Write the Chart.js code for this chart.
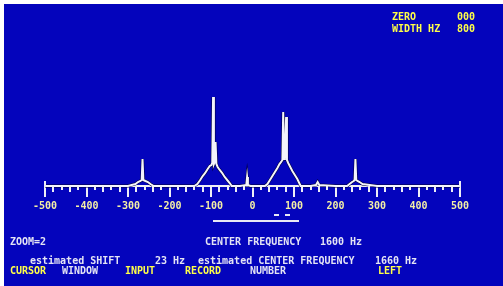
<!DOCTYPE html>
<html><head><meta charset="utf-8">
<script src="https://cdn.jsdelivr.net/npm/chart.js@4.4.0/dist/chart.umd.min.js"></script>
<style>
html,body{margin:0;padding:0;background:#fff;width:503px;height:286px;overflow:hidden}
#wrap{position:absolute;left:0;top:0;width:503px;height:286px}
#bg{position:absolute;left:4px;top:4px;right:0;bottom:0;background:#0404bc}
canvas{position:absolute;left:0;top:0}
.t{position:absolute;font:bold 10px "DejaVu Sans Mono",monospace;color:#e4e4f4;white-space:pre;line-height:10px}
.y{color:#ffff48}
.bar{position:absolute;background:#e8e8f4}
</style></head><body>
<div id="wrap">
<div id="bg"></div>
<canvas id="c" width="503" height="286"></canvas>
<div class="t y" style="left:392px;top:12px">ZERO</div>
<div class="t y" style="left:457px;top:12px">000</div>
<div class="t y" style="left:392px;top:24px">WIDTH HZ</div>
<div class="t y" style="left:457px;top:24px">800</div>
<div class="bar" style="left:274px;top:214px;width:5px;height:2px"></div>
<div class="bar" style="left:285px;top:214px;width:5px;height:2px"></div>
<div class="bar" style="left:213px;top:220px;width:86px;height:2px"></div>
<div class="t" style="left:10px;top:237px">ZOOM=2</div>
<div class="t" style="left:205px;top:237px">CENTER FREQUENCY</div>
<div class="t" style="left:320px;top:237px">1600 Hz</div>
<div class="t" style="left:30px;top:256px">estimated SHIFT</div>
<div class="t" style="left:155px;top:256px">23 Hz</div>
<div class="t" style="left:198px;top:256px">estimated CENTER FREQUENCY</div>
<div class="t" style="left:375px;top:256px">1660 Hz</div>
<div class="t y" style="left:10px;top:266px">CURSOR</div>
<div class="t" style="left:62px;top:266px">WINDOW</div>
<div class="t y" style="left:125px;top:266px">INPUT</div>
<div class="t y" style="left:185px;top:266px">RECORD</div>
<div class="t" style="left:250px;top:266px">NUMBER</div>
<div class="t y" style="left:378px;top:266px">LEFT</div>
</div>
<script>
const freqHz = [-500,-420,-300,-282,-276,-270,-267,-265,-263,-258,-252,-246,-238,
  -140,-133,-126,-120,-114,-108,-103,-99,-97,-95,-93,-91,-89,-87,-84,-79,-73,-67,-61,-55,-50,
  -30,-15,-13,-11,-5,
  10,30,36,42,48,54,60,65,69,72,74,76,78,81,83,86,91,96,102,108,116,
  140,153,157,161,
  200,228,234,240,244,246,248,250,253,258,265,300,420,500];
const level = [0,0,0,2,4,5,6,27,6,5,4,2,0,
  0,2,6,10,13,17,20,21,23,89,22,24,44,22,19,16,13,9,6,3,0,
  0,1,9,1,0,
  0,0,2,6,10,14,18,22,24,26,74,27,28,69,26,23,19,15,11,7,0,
  0,1,4,1,
  0,0,2,4,5,6,27,6,5,4,2,0,0,0];
const xMin = -500, xMax = 500, majorStep = 100, minorStep = 20;

const pts = freqHz.map((f,i)=>({x:f,y:level[i]}));

const minorTicks = {
  id:'minorTicks',
  afterDraw(chart){
    const s = chart.scales.x, ctx = chart.ctx, y0 = s.top;
    ctx.save();
    ctx.strokeStyle = '#eeeef6';
    ctx.lineWidth = 2;
    for (let v = xMin; v <= xMax; v += minorStep) {
      if (v % majorStep === 0) continue;
      const len = (v % 40 === 0) ? 6 : 4;
      const px = Math.round(s.getPixelForValue(v));
      ctx.beginPath(); ctx.moveTo(px, y0); ctx.lineTo(px, y0 + len); ctx.stroke();
    }
    [xMin, xMax].forEach(v=>{
      const px = Math.round(s.getPixelForValue(v));
      ctx.beginPath(); ctx.moveTo(px, y0 + 1); ctx.lineTo(px, y0 - 5); ctx.stroke();
    });
    ctx.restore();
  }
};

new Chart(document.getElementById('c'), {
  type: 'line',
  data: { datasets: [
    { data: pts, borderColor: '#f4f4fc', borderWidth: 2, pointRadius: 0, tension: 0, clip: false },
    { data: pts, borderColor: '#000030', borderWidth: 3, pointRadius: 0, tension: 0, clip: false }
  ]},
  options: {
    responsive: false, animation: false, devicePixelRatio: 1,
    layout: { padding: { left: 45, right: 43, top: 86, bottom: 70 } },
    plugins: { legend: { display: false }, tooltip: { enabled: false } },
    scales: {
      x: {
        type: 'linear', min: xMin, max: xMax,
        afterFit(s){ s.height = 30; },
        ticks: { stepSize: majorStep, color: '#f2eea6', padding: 3, maxRotation: 0,
                 font: { family: 'DejaVu Sans Mono', size: 10, weight: 'bold' },
                 callback: v => String(v) },
        grid: { display: true, drawOnChartArea: false, drawTicks: true, tickLength: 11,
                color: '#eeeef6', lineWidth: 2 },
        border: { display: true, color: '#eeeef6', width: 2 }
      },
      y: { display: false, min: 0, max: 100 }
    }
  },
  plugins: [minorTicks]
});
</script>
</body></html>
